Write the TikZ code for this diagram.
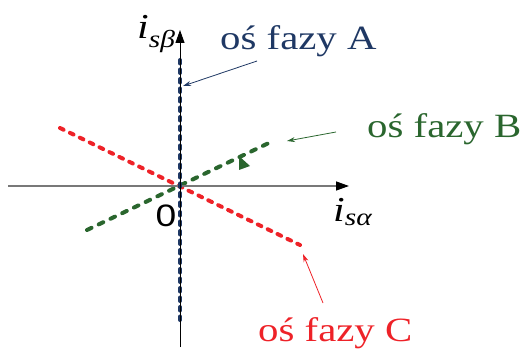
\documentclass[tikz,border=0pt]{standalone}
\usepackage{fontspec}
\setmainfont{Liberation Serif}
\newfontfamily\fazafont{Liberation Serif}
\newfontfamily\zerofont{Liberation Sans}
\usepackage{xcolor}
\usetikzlibrary{arrows.meta}
\definecolor{fazaA}{RGB}{31,56,100}
\definecolor{fazaB}{RGB}{42,102,46}
\definecolor{fazaC}{RGB}{238,34,40}
\definecolor{osgray}{RGB}{120,120,120}
\newcommand{\wide}[1]{\scalebox{1.2}[1]{#1}}

\begin{document}
\begin{tikzpicture}[x=1pt, y=-1pt, every node/.style={inner sep=0pt},
  lbl/.style={font=\fazafont\fontsize{34}{36}\selectfont, anchor=base west},
  axislbl/.style={font=\fazafont\fontsize{35}{37}\selectfont\itshape},
  axis/.style={line width=1.3pt, -{Triangle[length=13pt,width=9pt]}},
  faza/.style={line width=4pt, line cap=round, dash pattern=on 4pt off 7pt},
  note/.style={line width=0.8pt, -{Stealth[length=8pt,width=5pt]}}]
\useasboundingbox (0,0) rectangle (527,355);
% axes
\coordinate (O) at (180,186);
\coordinate (xl) at (8,186);
\coordinate (xr) at (349,186);
\coordinate (yb) at (180,347);
\coordinate (yt) at (180,30);
% phase axis ends
\coordinate (Atop) at (180,60);
\coordinate (Abot) at (180,320);
\coordinate (Bl) at (87,230);
\coordinate (Br) at (273,141);
\coordinate (Cl) at (60,128);
\coordinate (Cr) at (300,245);
\draw[faza, fazaB, dash pattern=on 5pt off 8pt] (Bl) -- (Br);
\draw[faza, fazaC] (Cl) -- (Cr);
\draw[axis, osgray, -{Triangle[length=13pt,width=9pt,fill=black,color=black]}] (xl) -- (xr);
\draw[faza, fazaA, dash pattern=on 3.5pt off 6pt] (Atop) -- (Abot);
\draw[axis, black, line width=1pt] (yb) -- (yt);
\fill[fazaB] (239,156) -- (239,170) -- (250,166) -- cycle;
% labels
\node[axislbl, anchor=base west] (beta) at (137,39) {\wide{i\textsubscript{sβ}}};
\node[axislbl, anchor=base west] (alpha) at (333,222) {\wide{i\textsubscript{sα}}};
\node[font=\fontsize{31}{33}\zerofont] (zero) at (166,216) {\wide{0}};
\node[lbl, fazaA] (labA) at (220,50) {\wide{oś fazy A}};
\node[lbl, fazaB] (labB) at (367,138) {\wide{oś fazy B}};
\node[lbl, fazaC] (labC) at (258,341) {\wide{oś fazy C}};
% pointers
\coordinate (pA) at (257,61);
\coordinate (tA) at (183,86);
\coordinate (pB) at (336,132);
\coordinate (tB) at (287,141);
\coordinate (pC) at (323,303);
\coordinate (tC) at (303,254);
\draw[note, fazaA] (pA) -- (tA);
\draw[note, fazaB] (pB) -- (tB);
\draw[note, fazaC] (pC) -- (tC);
\end{tikzpicture}
\end{document}
